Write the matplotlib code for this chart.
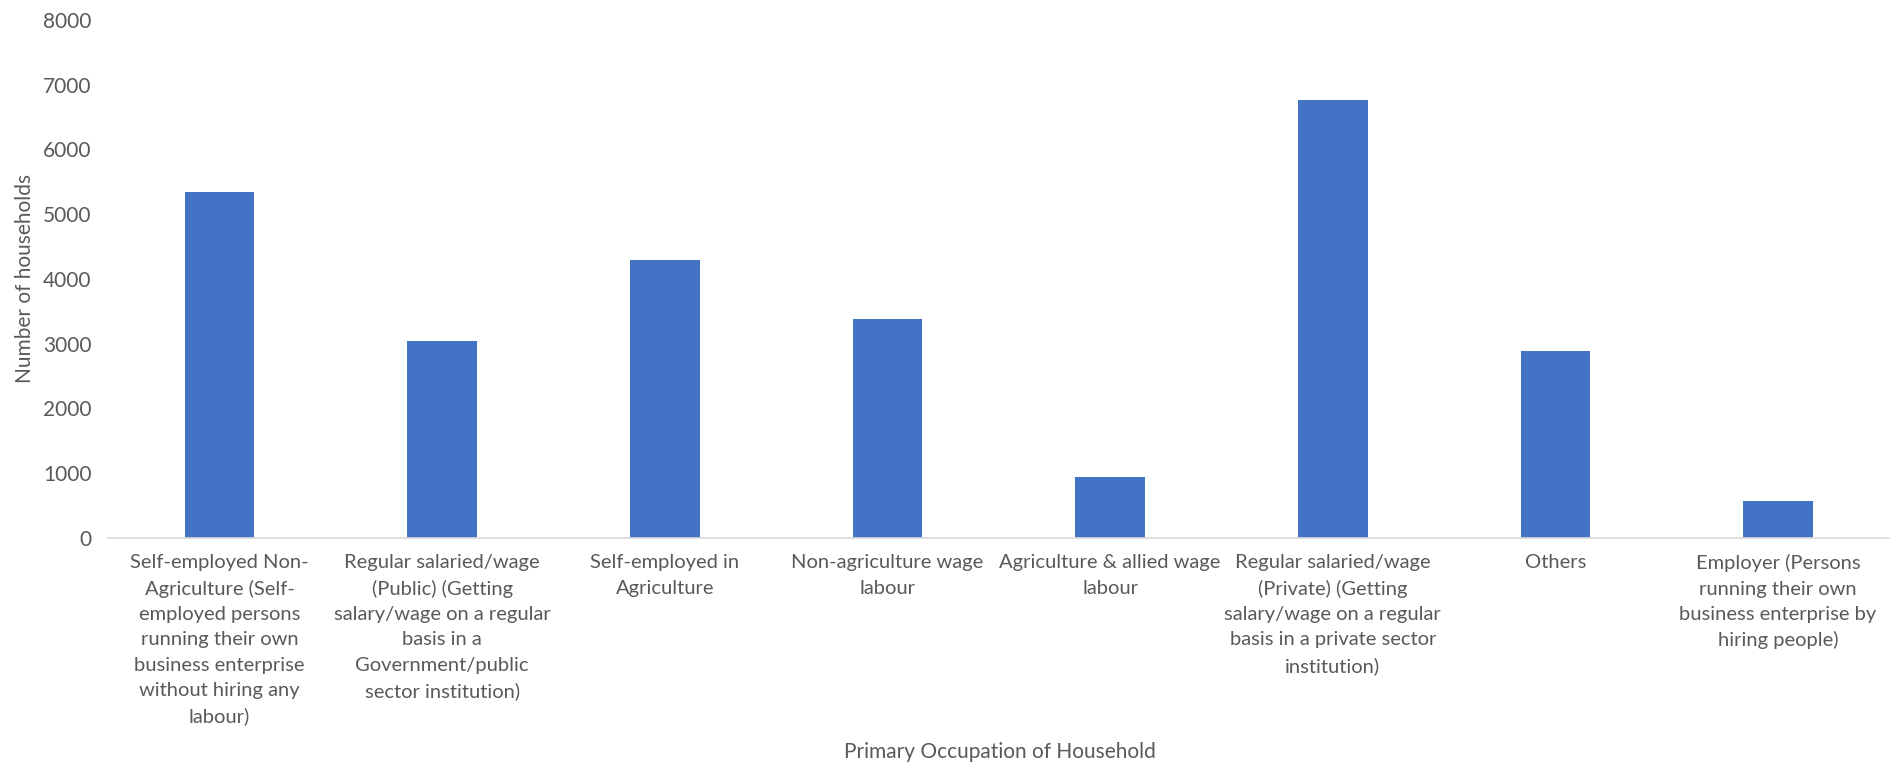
import matplotlib
matplotlib.use("Agg")
import matplotlib.pyplot as plt
import numpy as np

# Households by primary occupation
categories = [
    "Self-employed Non-\nAgriculture (Self-\nemployed persons\nrunning their own\nbusiness enterprise\nwithout hiring any\nlabour)",
    "Regular salaried/wage\n(Public) (Getting\nsalary/wage on a regular\nbasis in a\nGovernment/public\nsector institution)",
    "Self-employed in\nAgriculture",
    "Non-agriculture wage\nlabour",
    "Agriculture & allied wage\nlabour",
    "Regular salaried/wage\n(Private) (Getting\nsalary/wage on a regular\nbasis in a private sector\ninstitution)",
    "Others",
    "Employer (Persons\nrunning their own\nbusiness enterprise by\nhiring people)",
]
households = [5340, 3040, 4290, 3380, 940, 6760, 2880, 560]
y_ticks = [0, 1000, 2000, 3000, 4000, 5000, 6000, 7000, 8000]

text_col = "#595959"
bar_col = "#4472c4"

plt.rcParams["font.family"] = ["Lato", "DejaVu Sans"]

fig = plt.figure(figsize=(18.97, 7.66), dpi=100)
ax = fig.add_axes([0.057, 0.298, 0.939, 0.676])

x = np.arange(len(categories))
ax.bar(x, households, width=0.313, color=bar_col, zorder=2)

ax.set_xlim(-0.5, len(categories) - 0.5)
ax.set_ylim(0, 8000)
ax.set_yticks(y_ticks)
ax.set_yticklabels([str(v) for v in y_ticks], fontsize=15, color=text_col)
ax.set_xticks(x)
ax.set_xticklabels(categories, fontsize=14.5, color=text_col, linespacing=1.58,
                   va="top", ha="center")
ax.tick_params(axis="both", length=0)
ax.tick_params(axis="x", pad=12)
ax.tick_params(axis="y", pad=12)

for side in ["top", "right", "left"]:
    ax.spines[side].set_visible(False)
ax.spines["bottom"].set_color("#d9d9d9")
ax.spines["bottom"].set_linewidth(1.2)

ax.set_ylabel("Number of households", fontsize=15, color=text_col)
ax.yaxis.set_label_coords(-0.041, 0.5)
fig.text(0.527, 0.018, "Primary Occupation of Household", fontsize=15,
         color=text_col, ha="center", va="center")

fig.savefig("out.png", dpi=100, facecolor="white")
